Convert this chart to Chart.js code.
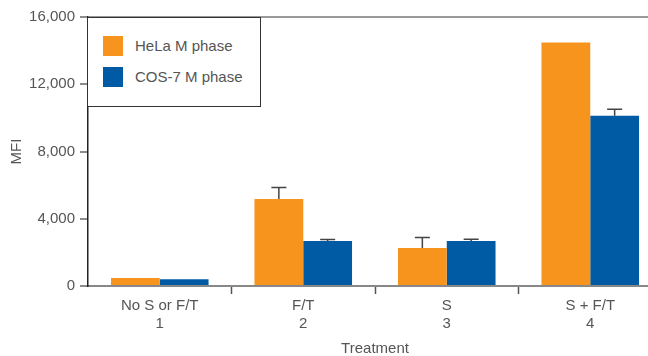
<!DOCTYPE html>
<html>
<head>
<meta charset="utf-8">
<script src="https://cdn.jsdelivr.net/npm/chart.js@4/dist/chart.umd.min.js"></script>
<style>
  html, body { margin: 0; padding: 0; background: #fff; overflow: hidden; }
  #wrap { position: relative; width: 648px; height: 356px; overflow: hidden; }
  #box { position: absolute; left: 0; top: 0; width: 662px; height: 356px; }
  #legend {
    position: absolute; left: 87px; top: 17px; width: 174px; height: 90px;
    box-sizing: border-box; border: 1.5px solid #333; background: #fff;
    font-family: "Liberation Sans", Arial, sans-serif; font-size: 15px; color: #555;
  }
  #legend .item { position: absolute; left: 15px; height: 20px; line-height: 20px; white-space: nowrap; }
  #legend .sw { display: inline-block; width: 20px; height: 20px; vertical-align: top; margin-right: 12px; }
</style>
</head>
<body>
<div id="wrap">
  <div id="box"><canvas id="chart" width="662" height="356"></canvas></div>
  <div id="legend"></div>
</div>
<script>
// treatments (x axis, two lines each)
const categories = [['No S or F/T', '1'], ['F/T', '2'], ['S', '3'], ['S + F/T', '4']];
const seriesNames = ['HeLa M phase', 'COS-7 M phase'];
const seriesColors = ['#F7941D', '#005BA4'];

// MFI values
const helaValues = [480, 5180, 2260, 14480];
const cosValues = [400, 2680, 2680, 10130];
// upper error bar lengths (0 = none drawn)
const helaErrors = [0, 680, 620, 0];
const cosErrors = [0, 80, 100, 380];

const yTicks = [0, 4000, 8000, 12000, 16000];

Chart.defaults.font.family = '"Liberation Sans", Arial, sans-serif';
Chart.defaults.font.size = 15;
Chart.defaults.color = '#555';

// simple upward error bars, drawn from the y scale
const errorBars = {
  id: 'errorBars',
  afterDatasetsDraw(chart) {
    const ctx = chart.ctx;
    const y = chart.scales.y;
    chart.data.datasets.forEach((ds, i) => {
      const meta = chart.getDatasetMeta(i);
      meta.data.forEach((bar, j) => {
        const err = ds.errors[j];
        if (!err) return;
        const top = y.getPixelForValue(ds.data[j] + err);
        ctx.save();
        ctx.strokeStyle = '#444';
        ctx.lineWidth = 1.5;
        ctx.beginPath();
        ctx.moveTo(bar.x, bar.y);
        ctx.lineTo(bar.x, top);
        ctx.moveTo(bar.x - 7.5, top);
        ctx.lineTo(bar.x + 7.5, top);
        ctx.stroke();
        ctx.restore();
      });
    });
  }
};

const chart = new Chart(document.getElementById('chart'), {
  type: 'bar',
  data: {
    labels: categories,
    datasets: [
      { label: seriesNames[0], data: helaValues, errors: helaErrors, backgroundColor: seriesColors[0] },
      { label: seriesNames[1], data: cosValues, errors: cosErrors, backgroundColor: seriesColors[1] }
    ]
  },
  options: {
    responsive: false,
    animation: false,
    events: [],
    layout: { padding: { top: 17, right: 0, bottom: 0, left: 0 } },
    datasets: { bar: { categoryPercentage: 0.68, barPercentage: 1.0 } },
    plugins: { legend: { display: false }, tooltip: { enabled: false } },
    scales: {
      x: {
        afterFit(scale) { scale.height = 70; },
        grid: {
          offset: true,
          drawOnChartArea: false,
          tickLength: 8,
          tickWidth: 1.5,
          tickColor: (c) => c.index === 0 ? 'rgba(0,0,0,0)' : '#555'
        },
        border: { color: '#888', width: 2 },
        ticks: { padding: 3, maxRotation: 0, color: '#555' },
        title: { display: true, text: 'Treatment', color: '#555', padding: { top: 0, bottom: -2 } }
      },
      y: {
        min: 0,
        max: 16000,
        afterFit(scale) { scale.width = 88; },
        afterBuildTicks(scale) { scale.ticks = yTicks.map(v => ({ value: v })); },
        grid: {
          drawOnChartArea: true,
          color: (c) => c.tick && c.tick.value === 16000 ? '#999' : 'rgba(0,0,0,0)',
          lineWidth: 2,
          tickLength: 8,
          tickColor: '#666',
          tickWidth: 1.5
        },
        border: { color: '#222', width: 1.5 },
        ticks: { padding: 5, color: '#555' },
        title: { display: true, text: 'MFI', color: '#555', padding: { top: 8, bottom: 0 } }
      }
    }
  },
  plugins: [errorBars]
});

// legend box drawn from the dataset names/colours
const legend = document.getElementById('legend');
chart.data.datasets.forEach((ds, i) => {
  const item = document.createElement('div');
  item.className = 'item';
  item.style.top = (i === 0 ? 18 : 49) + 'px';
  item.innerHTML = '<span class="sw" style="background:' + ds.backgroundColor + '"></span>' + ds.label;
  legend.appendChild(item);
});
</script>
</body>
</html>
